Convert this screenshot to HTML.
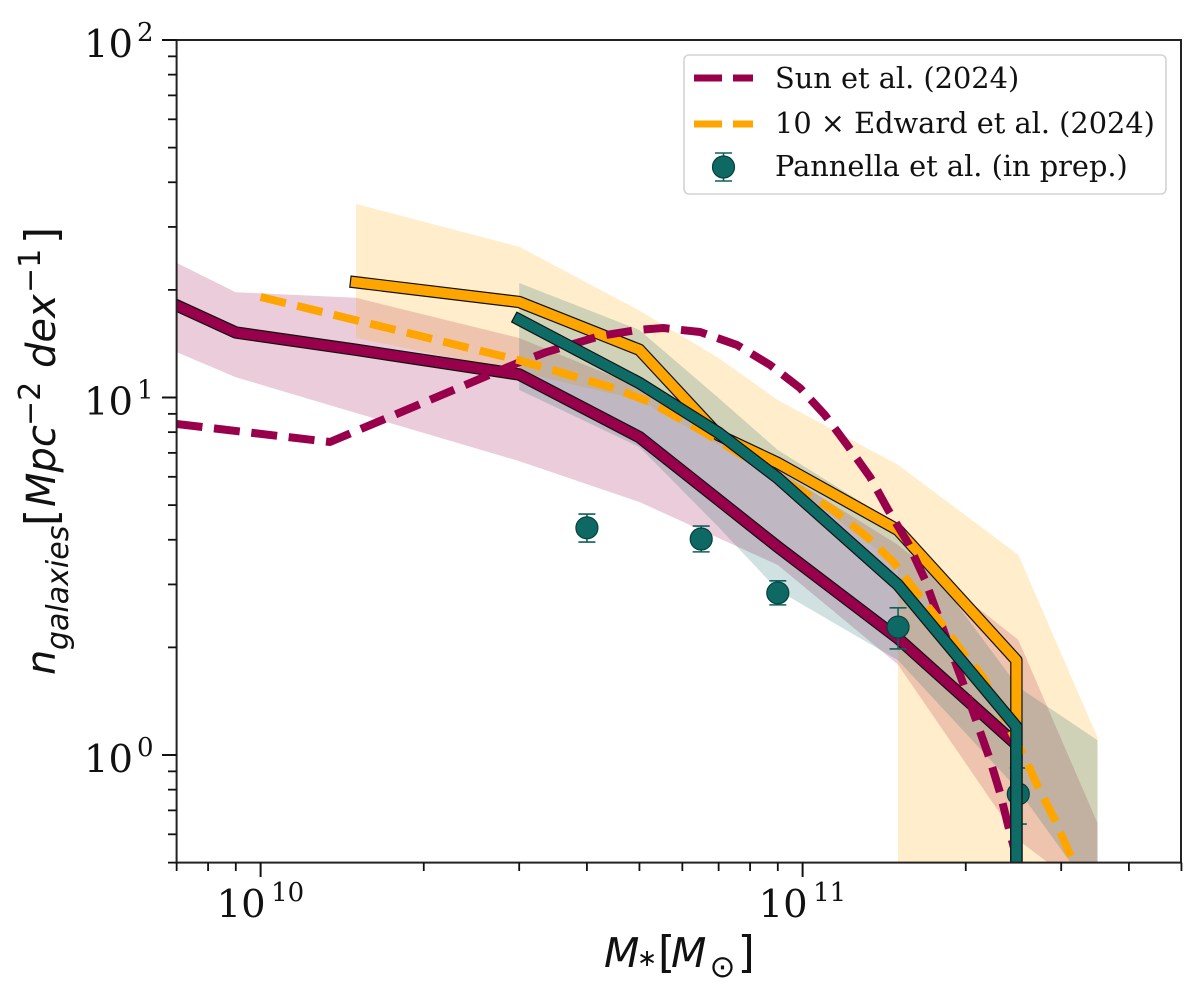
<!DOCTYPE html>
<html lang="en">
<head>
<meta charset="utf-8">
<title>Galaxy number density vs stellar mass</title>
<style>
html,body{margin:0;padding:0;background:#fff;width:1200px;height:993px;overflow:hidden}
svg{display:block}
.math{font-family:"DejaVu Sans","Liberation Sans",sans-serif;fill:#111}
.tick{font-family:"DejaVu Serif","Liberation Serif",serif;fill:#111}
.leg{font-family:"DejaVu Serif","Liberation Serif",serif;fill:#111;font-size:28.8px}
</style>
</head>
<body>
<svg id="chart" xmlns="http://www.w3.org/2000/svg" width="1200" height="993" viewBox="0 0 1200 993">
<defs><clipPath id="plot-clip"><rect x="176.6" y="40" width="1004.4" height="822.6"/></clipPath></defs>
<rect x="0" y="0" width="1200" height="993" fill="#fff"/>
<g id="bands" clip-path="url(#plot-clip)"></g>
<g id="series" clip-path="url(#plot-clip)"></g>
<g id="axes"></g>
<g class="math" font-size="41">
<text x="604" y="967" font-style="italic">M</text>
<text x="637" y="966" font-size="24">∗</text>
<text x="658" y="967" font-size="44">[</text>
<text x="671" y="967" font-style="italic">M</text>
<text x="709.5" y="977" font-size="31">⊙</text>
<text x="737.6" y="967" font-size="44">]</text>
</g>
<g class="math" transform="translate(55 673) rotate(-90)" font-size="40">
<text x="-2" y="0" font-style="italic">n</text>
<text x="23" y="13" font-size="30" font-style="italic">galaxies</text>
<text x="147" y="1" font-size="44">[</text>
<text x="166" y="0" font-style="italic">Mpc</text>
<text x="247" y="-15" font-size="30">−2</text>
<text x="305" y="0" font-style="italic">dex</text>
<text x="380" y="-15" font-size="30">−1</text>
<text x="429" y="1" font-size="44">]</text>
</g>
<g>
<rect x="684" y="55" width="482" height="139" rx="5" ry="5" fill="#fff" fill-opacity="0.85" stroke="#d4d4d4" stroke-width="1.6"/>
<g>
<line x1="694" y1="78" x2="753" y2="78" stroke="#99004c" stroke-width="7" stroke-dasharray="28 11"/>
<text class="leg" x="775" y="88">Sun et al. (2024)</text>
</g>
<g>
<line x1="694" y1="124" x2="753" y2="124" stroke="#ffa500" stroke-width="7" stroke-dasharray="28 11"/>
<text class="leg" x="775" y="133">10 × Edward et al. (2024)</text>
</g>
<g>
<line x1="723.5" y1="153" x2="723.5" y2="181" stroke="#0d605c" stroke-width="1.6"/>
<line x1="715" y1="153" x2="732" y2="153" stroke="#0d605c" stroke-width="1.6"/>
<line x1="715" y1="181" x2="732" y2="181" stroke="#0d605c" stroke-width="1.6"/>
<circle cx="723.5" cy="167" r="11" fill="#0e6964" stroke="#07403d" stroke-width="1.2"/>
<text class="leg" x="775" y="176">Pannella et al. (in prep.)</text>
</g>
</g>
</svg>
<script>
// Solid model lines: mass bins and densities
const sunSolidMass = [7e9, 9e9, 1.5e10, 3e10, 5e10, 9e10, 1.5e11, 2.48e11, 2.48e11];
const sunSolidN = [18.1, 15.2, 13.6, 11.6, 7.75, 3.82, 2.12, 1.07, 0.3];
const orangeSolidMass = [1.5e10, 3e10, 5e10, 7e10, 9e10, 1.5e11, 2.48e11, 2.48e11];
const orangeSolidN = [21.0, 18.5, 13.6, 7.85, 6.56, 4.26, 1.84, 0.3];
const tealSolidMass = [3e10, 5e10, 7e10, 9e10, 1.5e11, 2.48e11, 2.48e11];
const tealSolidN = [16.5, 10.98, 7.96, 5.95, 2.99, 1.20, 0.3];

// Shaded bands
const sunBandMass = [7e9, 9e9, 1.5e10, 3e10, 5e10, 9e10, 1.5e11, 2.5e11, 3.5e11];
const sunBandUpper = [23.8, 19.7, 19.0, 14.67, 10.7, 6.27, 3.87, 2.10, 0.645];
const sunBandLower = [13.4, 11.4, 9.05, 6.64, 5.10, 3.40, 1.79, 0.578, 0.393];
const orangeBandMass = [1.5e10, 3e10, 5e10, 7e10, 9e10, 1.5e11, 1.5e11, 2.5e11, 3.5e11];
const orangeBandUpper = [34.8, 26.4, 17.5, 12.9, 9.84, 6.48, 6.48, 3.63, 1.12];
const orangeBandLower = [14.67, 11.8, 9.84, 7.37, 6.07, 3.40, 0.3, 0.3, 0.3];
const tealBandMass = [3e10, 5e10, 7e10, 9e10, 1.5e11, 2.5e11, 3.5e11];
const tealBandUpper = [20.9, 15.45, 9.97, 7.13, 4.40, 1.55, 1.10];
const tealBandLower = [10.5, 7.27, 4.34, 2.89, 1.84, 0.798, 0.393];

// Dashed literature curves
const sunDashMass = [7e9, 1.343e10, 3.01e10, 3.376e10, 4.23e10, 4.95e10, 5.53e10, 6.47e10, 7.57e10, 8.71e10, 9.89e10, 1.10e11, 1.208e11, 1.332e11, 1.438e11, 1.565e11, 1.682e11, 1.755e11, 1.977e11, 2.098e11, 2.218e11, 2.314e11, 2.414e11, 2.518e11];
const sunDashN = [8.43, 7.51, 12.57, 13.41, 14.86, 15.45, 15.65, 15.25, 14.02, 12.33, 10.63, 8.93, 7.37, 5.99, 4.85, 3.92, 3.09, 2.59, 1.59, 1.23, 0.968, 0.783, 0.605, 0.477];
const edwardDashMass = [1e10, 1.808e10, 2.985e10, 3.61e10, 4.47e10, 5.23e10, 6.47e10, 8.71e10, 1.138e11, 1.315e11, 1.468e11, 1.612e11, 1.793e11, 1.977e11, 2.152e11, 2.572e11, 2.719e11, 2.922e11, 3.155e11, 3.4e11];
const edwardDashN = [19.1, 15.35, 12.73, 11.71, 10.63, 9.71, 8.11, 6.19, 4.85, 4.07, 3.47, 2.89, 2.36, 1.93, 1.65, 0.981, 0.814, 0.658, 0.502, 0.44];

// Pannella et al. points
const pannellaMass = [4e10, 6.5e10, 9e10, 1.5e11, 2.5e11];
const pannellaN = [4.32, 4.02, 2.84, 2.28, 0.778];
const pannellaHigh = [4.72, 4.37, 3.07, 2.58, 0.920];
const pannellaLow = [3.94, 3.70, 2.63, 1.98, 0.641];

// Axis ticks
const xMajorTicks = [1e10, 1e11];
const xMajorExponents = ['10', '11'];
const xMinorTicks = [7e9, 8e9, 9e9, 2e10, 3e10, 4e10, 5e10, 6e10, 7e10, 8e10, 9e10, 2e11, 3e11, 4e11, 5e11];
const yMajorTicks = [1, 10, 100];
const yMajorExponents = ['0', '1', '2'];
const yMinorTicks = [0.5, 0.6, 0.7, 0.8, 0.9, 2, 3, 4, 5, 6, 7, 8, 9, 20, 30, 40, 50, 60, 70, 80, 90];

const NS = 'http://www.w3.org/2000/svg';
const xScale = function (m) { return 260.6 + (Math.log10(m) - 10) * 542; };
const yScale = function (n) { return 755 - Math.log10(n) * 357.5; };

function make(tag, attrs, parent) {
  const el = document.createElementNS(NS, tag);
  for (const k in attrs) el.setAttribute(k, attrs[k]);
  parent.appendChild(el);
  return el;
}
function pts(xs, ys) {
  return xs.map(function (m, i) { return xScale(m).toFixed(1) + ',' + yScale(ys[i]).toFixed(1); });
}
function band(name, xs, up, lo, color, parent) {
  const upper = pts(xs, up);
  const lower = pts(xs, lo).reverse();
  const el = make('polygon', { points: upper.concat(lower).join(' '), fill: color, 'fill-opacity': 0.2 }, parent);
  
  
  return el;
}
function solid(name, xs, ys, color, parent) {
  const g = make('g', {}, parent);
  
  
  const p = pts(xs, ys).join(' ');
  make('polyline', { points: p, fill: 'none', stroke: '#111', 'stroke-width': 12.4, 'stroke-linecap': 'square', 'stroke-linejoin': 'round' }, g);
  make('polyline', { points: p, fill: 'none', stroke: color, 'stroke-width': 10, 'stroke-linecap': 'square', 'stroke-linejoin': 'round' }, g);
  return g;
}
function dashed(name, xs, ys, color, parent) {
  const el = make('polyline', { points: pts(xs, ys).join(' '), fill: 'none', stroke: color, 'stroke-width': 8, 'stroke-dasharray': '26 11.6', 'stroke-linejoin': 'round' }, parent);
  
  
  return el;
}

const bands = document.getElementById('bands');
const series = document.getElementById('series');
const axes = document.getElementById('axes');

band('band-sun', sunBandMass, sunBandUpper, sunBandLower, '#99004c', bands);
band('band-orange', orangeBandMass, orangeBandUpper, orangeBandLower, '#ffa500', bands);
band('band-teal', tealBandMass, tealBandUpper, tealBandLower, '#0e6b66', bands);

solid('line-sun-solid', sunSolidMass, sunSolidN, '#99004c', series);

pannellaMass.forEach(function (m, i) {
  const g = make('g', {}, series);
  
  
  const cx = xScale(m);
  const hi = yScale(pannellaHigh[i]);
  const lo = yScale(pannellaLow[i]);
  make('line', { x1: cx, x2: cx, y1: hi, y2: lo, stroke: '#0d605c', 'stroke-width': 1.6 }, g);
  make('line', { x1: cx - 8.5, x2: cx + 8.5, y1: hi, y2: hi, stroke: '#0d605c', 'stroke-width': 1.6 }, g);
  make('line', { x1: cx - 8.5, x2: cx + 8.5, y1: lo, y2: lo, stroke: '#0d605c', 'stroke-width': 1.6 }, g);
  make('circle', { cx: cx, cy: yScale(pannellaN[i]), r: 11, fill: '#0e6964', stroke: '#07403d', 'stroke-width': 1.2 }, g);
});

solid('line-orange-solid', orangeSolidMass, orangeSolidN, '#ffa500', series);
dashed('line-sun-dashed', sunDashMass, sunDashN, '#99004c', series);
dashed('line-edward-dashed', edwardDashMass, edwardDashN, '#ffa500', series);
solid('line-teal-solid', tealSolidMass, tealSolidN, '#0e6b66', series);

// Frame
const frame = make('rect', { x: 176.6, y: 40, width: 1004.4, height: 822.6, fill: 'none', stroke: '#222', 'stroke-width': 2 }, axes);



// X ticks
xMinorTicks.forEach(function (v) {
  const t = make('line', { x1: xScale(v), x2: xScale(v), y1: 862.6, y2: 871, stroke: '#111', 'stroke-width': 1.8 }, axes);
  
  
});
xMajorTicks.forEach(function (v, i) {
  const t = make('line', { x1: xScale(v), x2: xScale(v), y1: 862.6, y2: 877, stroke: '#111', 'stroke-width': 2 }, axes);
  
  
  const g = make('g', { class: 'tick' }, axes);
  
  
  const base = make('text', { x: xScale(v) - 44, y: 917, 'font-size': 38.5 }, g);
  base.textContent = '10';
  const sup = make('text', { x: xScale(v) + 10.5, y: 901, 'font-size': 26 }, g);
  sup.textContent = xMajorExponents[i];
});

// Y ticks
yMinorTicks.forEach(function (v) {
  const t = make('line', { x1: 168, x2: 176.6, y1: yScale(v), y2: yScale(v), stroke: '#111', 'stroke-width': 1.8 }, axes);
  
  
});
yMajorTicks.forEach(function (v, i) {
  const t = make('line', { x1: 162, x2: 176.6, y1: yScale(v), y2: yScale(v), stroke: '#111', 'stroke-width': 2 }, axes);
  
  
  const g = make('g', { class: 'tick' }, axes);
  
  
  const base = make('text', { x: 84, y: yScale(v) + 17, 'font-size': 38.5 }, g);
  base.textContent = '10';
  const sup = make('text', { x: 137, y: yScale(v) + 1, 'font-size': 26 }, g);
  sup.textContent = yMajorExponents[i];
});
</script>
</body>
</html>
